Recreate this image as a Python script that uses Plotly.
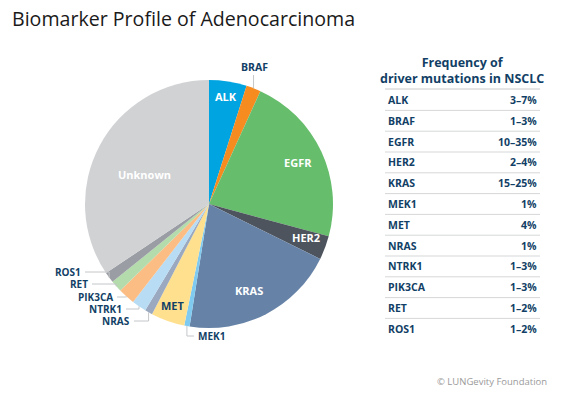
import math
import plotly.graph_objects as go

# ---- data ----
genes = ["ALK", "BRAF", "EGFR", "HER2", "KRAS", "MEK1", "MET", "NRAS",
         "NTRK1", "PIK3CA", "RET", "ROS1", "Unknown"]
shares = [4.9, 1.9, 22.4, 3.1, 20.2, 0.7, 4.4, 1.0, 1.9, 2.2, 1.5, 1.4, 34.4]
table_genes = ["ALK", "BRAF", "EGFR", "HER2", "KRAS", "MEK1", "MET", "NRAS",
               "NTRK1", "PIK3CA", "RET", "ROS1"]
table_freq = ["3–7%", "1–3%", "10–35%", "2–4%", "15–25%", "1%", "4%", "1%",
              "1–3%", "1–3%", "1–2%", "1–2%"]

# ---- styles ----
W, H = 564, 395
CX, CY, R = 209, 204, 124
NAVY = "#123f66"
FONT = "Open Sans"
colors = {"ALK": "#00a4e1", "BRAF": "#f68b1f", "EGFR": "#66bd6b", "HER2": "#4e545e",
          "KRAS": "#6683a7", "MEK1": "#7fcaf0", "MET": "#fee08f", "NRAS": "#9aa9c0",
          "NTRK1": "#b8dcf4", "PIK3CA": "#fbbd84", "RET": "#b4dbab", "ROS1": "#9a9da4",
          "Unknown": "#d1d2d4"}
# inside labels: (radius fraction, angle nudge in degrees, colour)
inside = {"ALK": (0.88, 0, "white"), "EGFR": (0.79, 0, "white"), "HER2": (0.83, -1.5, "white"),
          "KRAS": (0.77, 2.5, "white"), "Unknown": (0.57, -3, "white"), "MET": (0.87, 0, NAVY)}
# outside labels: label anchor in px (x, y), text anchor side
outside = {"BRAF": ((254, 67), "center"), "MEK1": ((196, 336), "left"),
           "NRAS": ((132, 321), "right"), "NTRK1": ((124, 309), "right"),
           "PIK3CA": ((115, 297), "right"), "RET": ((90, 284), "right"),
           "ROS1": ((83, 272), "right")}


def px(x):
    return x / W


def py(y):
    return 1 - y / H


def label(x, y, text, size, color, xanchor="center", bold=True):
    return dict(x=px(x), y=py(y), xref="paper", yref="paper", text=text,
                showarrow=False, xanchor=xanchor, yanchor="middle",
                font=dict(family=FONT, size=size, color=color,
                          weight="bold" if bold else "normal"))


fig = go.Figure(go.Pie(
    labels=genes, values=shares, sort=False, direction="clockwise", rotation=0,
    marker=dict(colors=[colors[g] for g in genes], line=dict(width=0)),
    textinfo="none", hoverinfo="label", showlegend=False,
    domain=dict(x=[px(CX - R), px(CX + R)], y=[py(CY + R), py(CY - R)]),
))

ann = []
shapes = []
total = sum(shares)
cum = 0
for g, v in zip(genes, shares):
    mid = (cum + v / 2) / total * 2 * math.pi
    cum += v
    if g in inside:
        f, nudge, col = inside[g]
        a = mid + math.radians(nudge)
        ann.append(label(CX + f * R * math.sin(a), CY - f * R * math.cos(a), g, 11, col))
    if g in outside:
        (lx, ly), side = outside[g]
        ex, ey = CX + R * math.sin(mid), CY - R * math.cos(mid)
        if side == "center":
            path = f"M {px(ex)} {py(ey)} L {px(ex)} {py(ly + 8)}"
            ann.append(label(lx, ly, g, 10.5, NAVY, "center"))
        else:
            endx = lx - 2 if side == "left" else lx + 2
            path = f"M {px(ex)} {py(ey)} L {px(ex)} {py(ly)} L {px(endx)} {py(ly)}"
            ann.append(label(lx, ly, g, 10, NAVY, side))
        shapes.append(dict(type="path", path=path, xref="paper", yref="paper",
                           line=dict(color="#c4c6c8", width=1)))

# title
ann.append(label(10, 18, "Biomarker Profile of Adenocarcinoma", 19.6, "#1a1a1a",
                 "left", bold=False))
# table header
ann.append(label(462, 71, "Frequency of<br>driver mutations in NSCLC", 12.5, NAVY))
TOP, STEP, TL, TR = 100, 20.8, 386, 540
shapes.append(dict(type="line", xref="paper", yref="paper", x0=px(TL - 1), x1=px(TR),
                   y0=py(TOP - 11), y1=py(TOP - 11), line=dict(color="#c9cacc", width=1)))
for i, (g, f) in enumerate(zip(table_genes, table_freq)):
    yy = TOP + i * STEP
    ann.append(label(TL, yy, g, 10.5, NAVY, "left"))
    ann.append(label(TR - 1, yy, f, 10.5, NAVY, "right"))
    if i < len(table_genes) - 1:
        shapes.append(dict(type="line", xref="paper", yref="paper", x0=px(TL - 1), x1=px(TR),
                           y0=py(yy + STEP / 2), y1=py(yy + STEP / 2),
                           line=dict(color="#d6d7d9", width=1)))
# footer
ann.append(label(549, 381, "© LUNGevity Foundation", 9.5, "#9a9a9a", "right", bold=False))

fig.update_layout(width=W, height=H, margin=dict(l=0, r=0, t=0, b=0),
                  paper_bgcolor="white", plot_bgcolor="white",
                  annotations=ann, shapes=shapes)
fig.write_html("out.html", config={"displayModeBar": False},
               post_script="document.body.style.margin='0px';")
